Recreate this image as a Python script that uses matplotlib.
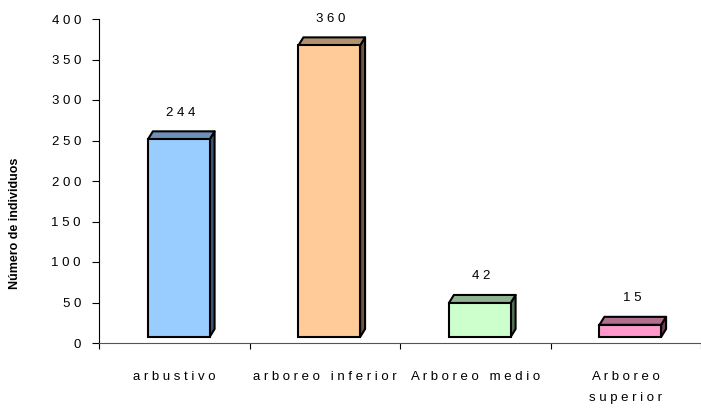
import matplotlib
matplotlib.use("Agg")
import matplotlib.pyplot as plt
from matplotlib.patches import Polygon

plt.rcParams['font.family'] = ['Liberation Sans', 'DejaVu Sans']

# estratos de vegetacion y numero de individuos
categorias = ["arbustivo", "arboreo inferior", "Arboreo medio", "Arboreo\nsuperior"]
individuos = [244, 360, 42, 15]
frente = ["#99CCFF", "#FFCC99", "#CCFFCC", "#FF99CC"]
techo = ["#6F90B5", "#B39070", "#90B390", "#B36F90"]
lado = ["#3D5570", "#70563F", "#557055", "#703F56"]
yticks = [0, 50, 100, 150, 200, 250, 300, 350, 400]


def espaciado(texto):
    # letras separadas como en la hoja original
    return "\n".join(" ".join(linea) for linea in texto.split("\n"))


fig = plt.figure(figsize=(7.01, 4.09), dpi=100)
ax = fig.add_axes([99 / 701, 66 / 409, 602 / 701, 324 / 409])

ancho = 0.41
base = 7.4     # suelo del grafico 3D
dx = 0.033     # profundidad en x
dy = 9.9       # profundidad en y

for i, v in enumerate(individuos):
    x0 = i + 0.03 - ancho / 2
    x1 = x0 + ancho
    top = base + v
    ax.add_patch(Polygon([(x1, base), (x1, top), (x1 + dx, top + dy), (x1 + dx, base + dy)],
                         closed=True, facecolor=lado[i], edgecolor="black", lw=1.5, joinstyle="round"))
    ax.add_patch(Polygon([(x0, top), (x1, top), (x1 + dx, top + dy), (x0 + dx, top + dy)],
                         closed=True, facecolor=techo[i], edgecolor="black", lw=1.5, joinstyle="round"))
    ax.bar(i + 0.03, v, width=ancho, bottom=base, color=frente[i], edgecolor="black", lw=1.5)
    ax.text(i + 0.04, top + 33, espaciado(str(v)), ha="center", va="center", fontsize=9.5)

ax.set_xlim(-0.5, 3.446)
ax.set_ylim(0, 400)

ax.set_yticks(yticks)
ax.set_yticklabels([espaciado(str(t)) for t in yticks], fontsize=9.5)
ax.set_xticks(range(len(categorias)))
ax.set_xticklabels([espaciado(c) for c in categorias], fontsize=9.5, linespacing=2.05)
ax.set_xticks([-0.5, 0.5, 1.5, 2.5, 3.5], minor=True)
ax.tick_params(axis="x", which="major", length=0, pad=20)
ax.tick_params(axis="x", which="minor", length=4, width=0.8, direction="out")
ax.tick_params(axis="y", length=5, width=0.8, direction="out", pad=8)

for s in ["top", "right"]:
    ax.spines[s].set_visible(False)
ax.spines["left"].set_linewidth(0.8)
ax.spines["bottom"].set_linewidth(0.8)
ax.spines["bottom"].set_color("#555555")

ax.set_ylabel("Número de individuos", fontsize=9, fontweight="bold")
ax.yaxis.set_label_coords(-0.13, 0.37)

fig.savefig("out.png", dpi=100)
